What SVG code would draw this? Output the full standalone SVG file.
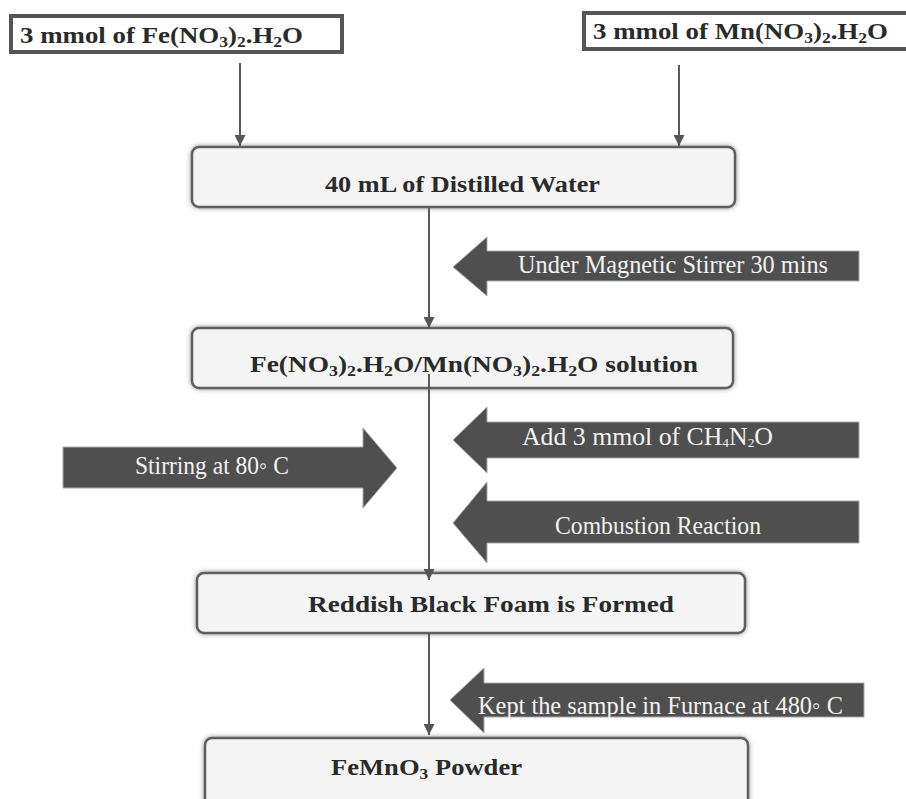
<svg xmlns="http://www.w3.org/2000/svg" width="906" height="799" viewBox="0 0 906 799">
<style>
.bg{fill:#ffffff}
.inbox{fill:#ffffff;stroke:#555555;stroke-width:4}
.step{fill:#f4f4f4;stroke:#5e5e5e;stroke-width:2.5}
.blk{fill:#4f4f4f;stroke:#a8a8a8;stroke-width:1}
.bt{font-family:"Liberation Serif","Times New Roman",serif;font-weight:bold;font-size:23px;fill:#2a2a2a}
.wt{font-family:"Liberation Serif","Times New Roman",serif;font-size:25px;fill:#f2f2f2}
.line{stroke:#5a5a5a;stroke-width:2;fill:none}
.sub{font-size:15px}
.wsub{font-size:13px}
</style>
<defs>
<filter id="sh" x="-5%" y="-20%" width="110%" height="140%">
<feDropShadow dx="0" dy="0" stdDeviation="2.5" flood-color="#808080" flood-opacity="0.85"/>
</filter>
<marker id="ah" viewBox="0 0 12 12" refX="12" refY="6" markerWidth="11" markerHeight="11" markerUnits="userSpaceOnUse" orient="auto">
<path d="M0,0 L12,6 L0,12 Z" fill="#555555"/>
</marker>
</defs>
<rect class="bg" x="0" y="0" width="906" height="799"/>

<g id="fe-nitrate">
<rect class="inbox" x="11" y="16" width="331" height="36"/>
<text class="bt" x="20" y="43" textLength="283" lengthAdjust="spacingAndGlyphs">3 mmol of Fe(NO<tspan class="sub" dy="4">3</tspan><tspan dy="-4">)</tspan><tspan class="sub" dy="4">2</tspan><tspan dy="-4">.H</tspan><tspan class="sub" dy="4">2</tspan><tspan dy="-4">O</tspan></text>
</g>

<g id="mn-nitrate">
<rect class="inbox" x="584" y="13" width="330" height="36"/>
<text class="bt" x="593" y="39" textLength="295" lengthAdjust="spacingAndGlyphs">3 mmol of Mn(NO<tspan class="sub" dy="4">3</tspan><tspan dy="-4">)</tspan><tspan class="sub" dy="4">2</tspan><tspan dy="-4">.H</tspan><tspan class="sub" dy="4">2</tspan><tspan dy="-4">O</tspan></text>
</g>

<g id="distilled-water">
<rect class="step" x="192" y="147" width="543" height="60" rx="7" filter="url(#sh)"/>
<text class="bt" x="325" y="192" textLength="275" lengthAdjust="spacingAndGlyphs">40 mL of Distilled Water</text>
</g>

<g id="solution">
<rect class="step" x="192" y="328" width="541" height="60" rx="7" filter="url(#sh)"/>
<text class="bt" x="250" y="372" textLength="448" lengthAdjust="spacingAndGlyphs">Fe(NO<tspan class="sub" dy="4">3</tspan><tspan dy="-4">)</tspan><tspan class="sub" dy="4">2</tspan><tspan dy="-4">.H</tspan><tspan class="sub" dy="4">2</tspan><tspan dy="-4">O/Mn(NO</tspan><tspan class="sub" dy="4">3</tspan><tspan dy="-4">)</tspan><tspan class="sub" dy="4">2</tspan><tspan dy="-4">.H</tspan><tspan class="sub" dy="4">2</tspan><tspan dy="-4">O  solution</tspan></text>
</g>

<g id="foam">
<rect class="step" x="197" y="573" width="548" height="60" rx="7" filter="url(#sh)"/>
<text class="bt" x="308" y="612" textLength="366" lengthAdjust="spacingAndGlyphs">Reddish Black Foam is Formed</text>
</g>

<g id="powder">
<rect class="step" x="205" y="738" width="543" height="70" rx="7" filter="url(#sh)"/>
<text class="bt" x="331" y="775" textLength="191" lengthAdjust="spacingAndGlyphs">FeMnO<tspan class="sub" dy="4">3</tspan><tspan dy="-4"> Powder</tspan></text>
</g>

<g id="magnetic-stirrer">
<path class="blk" d="M453,267 L487,237 L487,251 L859,251 L859,281 L487,281 L487,296 Z"/>
<text class="wt" x="518" y="273" textLength="310" lengthAdjust="spacingAndGlyphs">Under Magnetic Stirrer 30 mins</text>
</g>

<g id="stirring-80">
<path class="blk" d="M63,447 L363,447 L363,428 L397,468 L363,508 L363,488 L63,488 Z"/>
<text class="wt" x="135" y="474" textLength="154" lengthAdjust="spacingAndGlyphs">Stirring at 80◦ C</text>
</g>

<g id="add-urea">
<path class="blk" d="M453,440 L487,407 L487,422 L859,422 L859,458 L487,458 L487,473 Z"/>
<text class="wt" x="522" y="445" textLength="251" lengthAdjust="spacingAndGlyphs">Add  3 mmol   of CH<tspan class="wsub" dy="2">4</tspan><tspan dy="-2">N</tspan><tspan class="wsub" dy="2">2</tspan><tspan dy="-2">O</tspan></text>
</g>

<g id="combustion">
<path class="blk" d="M453,523 L487,482 L487,501 L859,501 L859,543 L487,543 L487,563 Z"/>
<text class="wt" x="555" y="534" textLength="206" lengthAdjust="spacingAndGlyphs">Combustion Reaction</text>
</g>

<g id="furnace">
<path class="blk" d="M450,700 L484,668 L484,683 L864,683 L864,717 L484,717 L484,733 Z"/>
<text class="wt" x="478" y="714" textLength="365" lengthAdjust="spacingAndGlyphs">Kept the sample in Furnace at 480◦ C</text>
</g>

<g id="connectors">
<line class="line" x1="240" y1="63" x2="240" y2="146" marker-end="url(#ah)"/>
<line class="line" x1="679" y1="65" x2="679" y2="146" marker-end="url(#ah)"/>
<line class="line" x1="429" y1="208" x2="429" y2="328" marker-end="url(#ah)"/>
<line class="line" x1="429" y1="374" x2="429" y2="580" marker-end="url(#ah)"/>
<line class="line" x1="429" y1="634" x2="429" y2="735" marker-end="url(#ah)"/>
</g>
</svg>
